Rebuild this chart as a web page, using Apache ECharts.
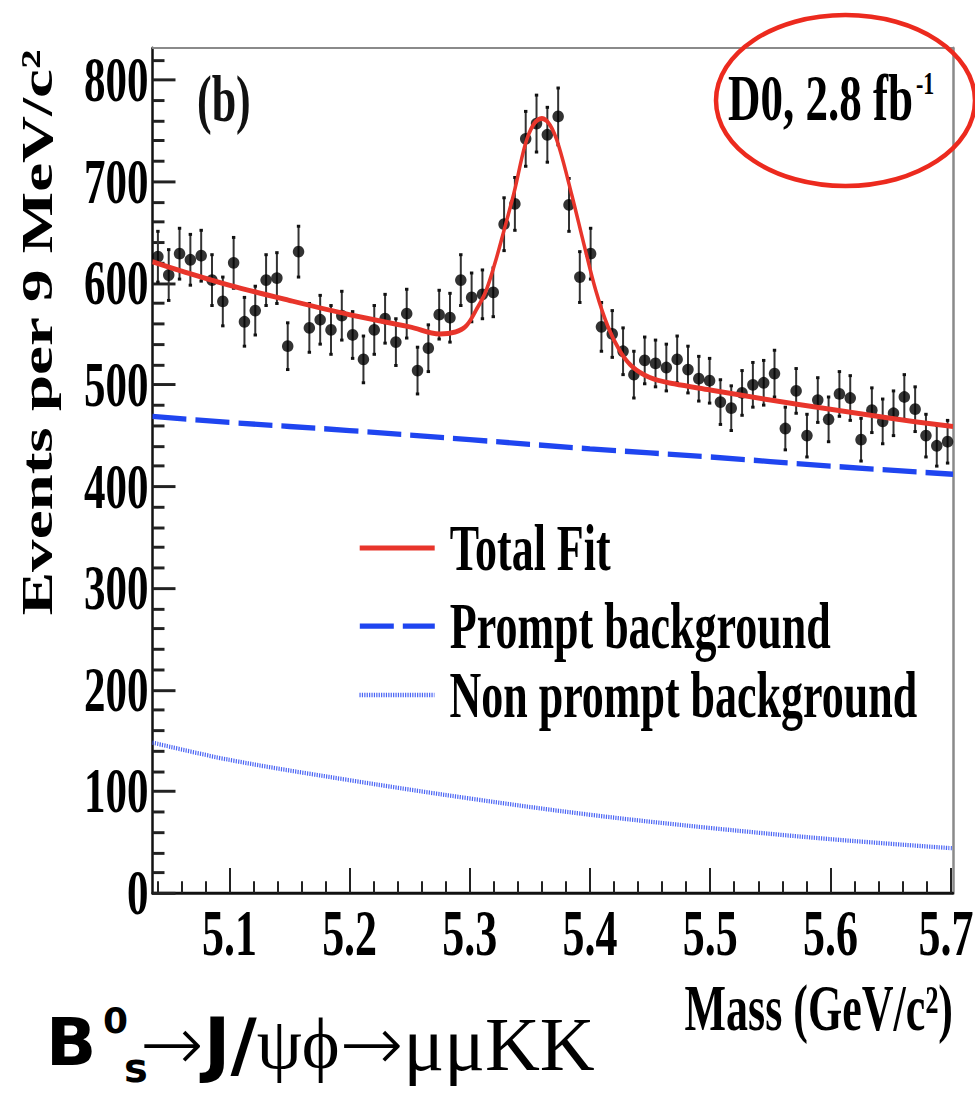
<!DOCTYPE html>
<html lang="en">
<head>
    <meta charset="UTF-8">
    <title>Bs mass fit</title>
    <script src="https://cdn.jsdelivr.net/npm/echarts@6.0.0/dist/echarts.min.js"></script>
    <style>
        html { overflow: hidden; }
        body { margin: 0; padding: 0; background: #fff; width: 975px; height: 1093px; }
        /* the source plot is stretched in height, so draw at 739px and stretch it */
        #main { width: 975px; height: 739px; transform: scaleY(1.479); transform-origin: 0 0; }
    </style>
</head>
<body>
<div id="main"></div>
<script>
    const STRETCH = 1093 / 739;

    // bin centres, 9 MeV/c^2 bins
    const massBins = [5.0405, 5.0495, 5.0585, 5.0675, 5.0765, 5.0855, 5.0945, 5.1035, 5.1125, 5.1215,
        5.1305, 5.1395, 5.1485, 5.1575, 5.1665, 5.1755, 5.1845, 5.1935, 5.2025, 5.2115,
        5.2205, 5.2295, 5.2385, 5.2475, 5.2565, 5.2655, 5.2745, 5.2835, 5.2925, 5.3015,
        5.3105, 5.3195, 5.3285, 5.3375, 5.3465, 5.3555, 5.3645, 5.3735, 5.3825, 5.3915,
        5.4005, 5.4095, 5.4185, 5.4275, 5.4365, 5.4455, 5.4545, 5.4635, 5.4725, 5.4815,
        5.4905, 5.4995, 5.5085, 5.5175, 5.5265, 5.5355, 5.5445, 5.5535, 5.5625, 5.5715,
        5.5805, 5.5895, 5.5985, 5.6075, 5.6165, 5.6255, 5.6345, 5.6435, 5.6525, 5.6615,
        5.6705, 5.6795, 5.6885, 5.6975];
    const events = [626, 608, 629, 623, 627, 603, 582, 620, 562, 573,
        603, 605, 538, 631, 556, 564, 554, 568, 549, 525,
        554, 565, 542, 570, 514, 536, 569, 566, 603, 586,
        589, 591, 658, 678, 742, 757, 746, 764, 677, 606,
        629, 557, 550, 533, 510, 524, 521, 517, 525, 515,
        506, 504, 483, 477, 492, 500, 502, 511, 457, 494,
        450, 485, 466, 491, 487, 446, 475, 464, 472, 488,
        476, 450, 440, 444];
    const eventErrors = [25, 25, 25, 25, 25, 25, 24, 25, 24, 24,
        25, 25, 23, 25, 24, 24, 24, 24, 23, 23,
        24, 24, 23, 24, 23, 23, 24, 24, 25, 24,
        24, 24, 26, 26, 27, 28, 27, 28, 26, 25,
        25, 24, 23, 23, 23, 23, 23, 23, 23, 23,
        22, 22, 22, 22, 22, 22, 22, 23, 21, 22,
        21, 22, 22, 22, 22, 21, 22, 22, 22, 22,
        22, 21, 20, 21];

    // fit curves
    const fitMass = [5.036, 5.06, 5.10, 5.15, 5.20, 5.25, 5.275, 5.288, 5.297, 5.305,
        5.313, 5.321, 5.328, 5.337, 5.346, 5.353, 5.36, 5.367, 5.374, 5.385,
        5.395, 5.405, 5.415, 5.425, 5.435, 5.45, 5.47, 5.50, 5.55, 5.60,
        5.65, 5.702];
    const fitValues = [621, 612, 598, 583, 569, 557, 550, 552, 558, 573,
        591, 620, 650, 690, 736, 756, 762, 755, 735, 686,
        638, 592, 557, 533, 518, 507, 501, 495, 485, 476,
        467, 459];
    const bkgMass = [5.036, 5.1, 5.2, 5.3, 5.4, 5.5, 5.6, 5.702];
    const promptValues = [469, 463, 455, 446, 437, 429, 420, 412];
    const nonPromptValues = [148, 131, 111, 93, 77, 64, 53, 44];

    const xMajorTicks = [5.1, 5.2, 5.3, 5.4, 5.5, 5.6, 5.7];
    const xMinorTicks = [5.04, 5.06, 5.08, 5.12, 5.14, 5.16, 5.18, 5.22, 5.24, 5.26, 5.28,
        5.32, 5.34, 5.36, 5.38, 5.42, 5.44, 5.46, 5.48, 5.52, 5.54, 5.56, 5.58,
        5.62, 5.64, 5.66, 5.68];
    const yMajorTicks = [0, 100, 200, 300, 400, 500, 600, 700, 800];
    const yMinorTicks = [20, 40, 60, 80, 120, 140, 160, 180, 220, 240, 260, 280,
        320, 340, 360, 380, 420, 440, 460, 480, 520, 540, 560, 580,
        620, 640, 660, 680, 720, 740, 760, 780, 820];

    const X_MIN = 5.036, X_MAX = 5.702, Y_MIN = 0, Y_MAX = 831;

    const serif = 'Liberation Serif';
    const points = massBins.map((m, i) => [m, events[i], eventErrors[i]]);
    const pairs = (xs, ys) => xs.map((x, i) => [x, ys[i]]);

    const FIT_RED = '#e8352b', PROMPT_BLUE = '#1f45f0', NONPROMPT_BLUE = '#4a64f4';
    const promptDash = [34, 9], nonPromptDash = [1.2, 1.2];

    function renderErrorBar(params, api) {
        const x = api.value(0), y = api.value(1), err = api.value(2);
        const hi = api.coord([x, y + err]);
        const lo = api.coord([x, y - err]);
        const cap = {stroke: '#111', lineWidth: 2};
        return {
            type: 'group',
            children: [
                {type: 'line', shape: {x1: hi[0], y1: hi[1], x2: lo[0], y2: lo[1]}, style: {stroke: '#333', lineWidth: 2}},
                {type: 'line', shape: {x1: hi[0] - 1.7, y1: hi[1], x2: hi[0] + 1.7, y2: hi[1]}, style: cap},
                {type: 'line', shape: {x1: lo[0] - 1.7, y1: lo[1], x2: lo[0] + 1.7, y2: lo[1]}, style: cap}
            ]
        };
    }

    const tickStyle = {color: '#222', width: 2};
    const tickFont = {fontFamily: serif, fontWeight: 'bold', fontSize: 44, color: '#000'};
    const legendText = {fontFamily: serif, fontWeight: 'bold', fontSize: 44, color: '#000', padding: [0, 0, 0, 10]};
    function legendRow(name, top, lineStyle) {
        return {
            data: [name], top: top, left: 353, orient: 'vertical',
            itemWidth: 75, itemHeight: 14, selectedMode: false,
            itemStyle: {opacity: 0}, lineStyle: lineStyle, textStyle: legendText
        };
    }

    const chart = echarts.init(document.getElementById('main'), null, {renderer: 'svg'});
    chart.setOption({
        animation: false,
        backgroundColor: '#fff',
        textStyle: {fontFamily: serif},
        grid: {left: 152.5, right: 22, top: 32.7, bottom: 135.2, containLabel: false, outerBoundsMode: 'none'},
        legend: [
            legendRow('Total Fit', 343.5, {color: FIT_RED, width: 3.4, type: 'solid'}),
            legendRow('Prompt background', 396.3, {color: PROMPT_BLUE, width: 3.6, type: promptDash}),
            legendRow('Non prompt background', 442.9, {color: NONPROMPT_BLUE, width: 2.9, type: nonPromptDash})
        ],
        xAxis: [
            {
                type: 'value', min: X_MIN, max: X_MAX, position: 'bottom',
                axisLine: {show: true, onZero: false, lineStyle: {color: '#111', width: 2}},
                axisTick: {show: true, inside: true, length: 17, customValues: xMajorTicks, lineStyle: tickStyle},
                axisLabel: Object.assign({
                    customValues: xMajorTicks, margin: 27, verticalAlign: 'middle',
                    // last label sits on the right edge, nudge it in
                    formatter: v => v >= 5.69 ? '{edge|' + v.toFixed(1) + '}' : v.toFixed(1),
                    rich: {edge: Object.assign({padding: [0, 9, 0, 0]}, tickFont)}
                }, tickFont),
                splitLine: {show: false},
                name: 'Mass (GeV/c²)', nameLocation: 'end', nameGap: 0,
                nameTextStyle: {
                    align: 'right', verticalAlign: 'top', padding: [56, 0, 0, 0],
                    fontFamily: serif, fontWeight: 'bold', fontSize: 44, color: '#000'
                }
            },
            {
                type: 'value', min: X_MIN, max: X_MAX, position: 'bottom',
                axisLine: {show: false},
                axisTick: {show: true, inside: true, length: 8, customValues: xMinorTicks, lineStyle: tickStyle},
                axisLabel: {show: false}, splitLine: {show: false}
            },
            {
                type: 'value', min: X_MIN, max: X_MAX, position: 'top',
                axisLine: {show: true, onZero: false, lineStyle: {color: '#8a8a8a', width: 1.3}},
                axisTick: {show: false}, axisLabel: {show: false}, splitLine: {show: false}
            }
        ],
        yAxis: [
            {
                type: 'value', min: Y_MIN, max: Y_MAX, position: 'left',
                axisLine: {show: true, onZero: false, lineStyle: {color: '#111', width: 2.5}},
                axisTick: {show: true, inside: true, length: 23, customValues: yMajorTicks, lineStyle: tickStyle},
                axisLabel: Object.assign({
                    customValues: yMajorTicks, margin: 4, verticalAlign: 'middle', padding: [8, 0, 0, 0]
                }, tickFont, {fontSize: 43}),
                splitLine: {show: false},
                name: 'Events per 9 MeV/c²', nameLocation: 'middle', nameGap: 93, nameRotate: 90,
                nameTextStyle: {fontFamily: serif, fontWeight: 'bold', fontSize: 44, color: '#000', padding: [0, 0, 0, 187]}
            },
            {
                type: 'value', min: Y_MIN, max: Y_MAX, position: 'left',
                axisLine: {show: false},
                axisTick: {show: true, inside: true, length: 12, customValues: yMinorTicks, lineStyle: tickStyle},
                axisLabel: {show: false}, splitLine: {show: false}
            },
            {
                type: 'value', min: Y_MIN, max: Y_MAX, position: 'right',
                axisLine: {show: true, onZero: false, lineStyle: {color: '#8a8a8a', width: 2.5}},
                axisTick: {show: false}, axisLabel: {show: false}, splitLine: {show: false}
            }
        ],
        series: [
            {
                type: 'custom', name: 'errors', data: points, renderItem: renderErrorBar,
                encode: {x: 0, y: 1}, silent: true, z: 2
            },
            {
                type: 'scatter', name: 'Data', data: points, symbol: 'circle', symbolSize: [11.5, 8],
                itemStyle: {color: '#000'}, silent: true, z: 3
            },
            {
                type: 'line', name: 'Total Fit', data: pairs(fitMass, fitValues), smooth: 0.35,
                symbol: 'none', itemStyle: {color: FIT_RED}, lineStyle: {color: FIT_RED, width: 3.4}, z: 5
            },
            {
                type: 'line', name: 'Prompt background', data: pairs(bkgMass, promptValues), smooth: 0.35,
                symbol: 'none', itemStyle: {color: PROMPT_BLUE}, lineStyle: {color: PROMPT_BLUE, width: 3.6, type: promptDash}, z: 4
            },
            {
                type: 'line', name: 'Non prompt background', data: pairs(bkgMass, nonPromptValues), smooth: 0.35,
                symbol: 'none', itemStyle: {color: NONPROMPT_BLUE}, lineStyle: {color: NONPROMPT_BLUE, width: 2.9, type: nonPromptDash}, z: 4
            }
        ],
        graphic: [
            {type: 'text', x: 197, y: 99 / STRETCH, style: {text: '(b)', fontFamily: serif, fontWeight: 'bold', fontSize: 44, fill: '#111', verticalAlign: 'middle'}},
            {type: 'text', x: 728, y: 97.5 / STRETCH, style: {text: 'D0, 2.8 fb', fontFamily: serif, fontWeight: 'bold', fontSize: 45, fill: '#000', verticalAlign: 'middle'}},
            {type: 'text', x: 916, y: 83 / STRETCH, style: {text: '-1', fontFamily: serif, fontWeight: 'bold', fontSize: 22, fill: '#000', verticalAlign: 'middle'}},
            {
                // drawn in page pixels: undo the stretch
                type: 'group', x: 0, y: 0, scaleY: 1 / STRETCH,
                children: [
                    {type: 'ellipse', shape: {cx: 845.5, cy: 100.5, rx: 129.5, ry: 85.5}, style: {fill: 'none', stroke: '#ec2a1e', lineWidth: 4.5}, z: 10},
                    {type: 'text', x: 46, y: 1043, style: {text: 'B', fontFamily: 'DejaVu Sans', fontWeight: 'bold', fontSize: 66, fill: '#000', verticalAlign: 'middle'}},
                    {type: 'text', x: 103, y: 1021, style: {text: '0', fontFamily: 'DejaVu Sans', fontWeight: 'bold', fontSize: 36, fill: '#000', verticalAlign: 'middle'}},
                    {type: 'text', x: 124, y: 1068, style: {text: 's', fontFamily: 'DejaVu Sans', fontWeight: 'bold', fontSize: 40, fill: '#000', verticalAlign: 'middle'}},
                    {
                        type: 'text', x: 140, y: 1044,
                        style: {
                            text: '{a|→}{b|J/}{c|ψϕ}{a|→}{d|μμKK}', verticalAlign: 'middle', fill: '#000',
                            rich: {
                                a: {fontFamily: 'DejaVu Sans', fontWeight: 200, fontSize: 76, lineHeight: 70, fill: '#000'},
                                b: {fontFamily: 'DejaVu Sans', fontWeight: 'bold', fontSize: 72, lineHeight: 70, fill: '#000'},
                                c: {fontFamily: serif, fontSize: 72, lineHeight: 70, fill: '#000'},
                                d: {fontFamily: serif, fontSize: 76, lineHeight: 70, fill: '#000'}
                            }
                        }
                    }
                ]
            }
        ]
    });
</script>
</body>
</html>
